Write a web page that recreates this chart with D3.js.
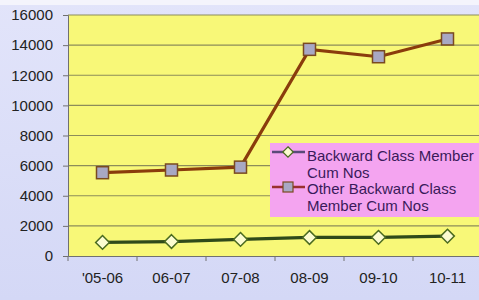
<!DOCTYPE html>
<html><head><meta charset="utf-8">
<script src="https://cdn.jsdelivr.net/npm/d3@7"></script>
<style>body{margin:0;background:#fff}svg{display:block}</style>
</head><body>
<script>
const categories = ["'05-06","06-07","07-08","08-09","09-10","10-11"];
const backward = [900, 960, 1100, 1230, 1240, 1320];
const otherBackward = [5530, 5710, 5900, 13720, 13230, 14410];
const yTicks = [0,2000,4000,6000,8000,10000,12000,14000,16000];
const seriesNames = [["Backward Class Member","Cum Nos"],["Other Backward Class","Member Cum Nos"]];

const W = 479, H = 300;
const FONT = "Arial, Liberation Sans, sans-serif";
const svg = d3.select("body").append("svg").attr("width", W).attr("height", H);
const defs = svg.append("defs");
const bg = defs.append("linearGradient").attr("id","bg").attr("x1",0).attr("y1",0).attr("x2",0).attr("y2",1);
bg.append("stop").attr("offset","0").attr("stop-color","#e2e4fa");
bg.append("stop").attr("offset","1").attr("stop-color","#d4d8f6");
svg.append("rect").attr("width",W).attr("height",H).attr("fill","url(#bg)");
svg.append("rect").attr("width",W).attr("height",5).attr("fill","#f4f4fc");

const m = {l:68, t:15, r:482, b:256};
const x = d3.scaleBand().domain(categories).range([m.l, m.r]);
const y = d3.scaleLinear().domain([0,16000]).range([m.b, m.t]);

svg.append("rect").attr("x",m.l).attr("y",m.t).attr("width",m.r-m.l).attr("height",m.b-m.t).attr("fill","#f8f878");

// gridlines
svg.append("g").selectAll("line").data(yTicks.filter(d=>d>0)).join("line")
  .attr("x1",m.l).attr("x2",m.r).attr("y1",d=>y(d)).attr("y2",d=>y(d))
  .attr("stroke","#8c8c5a").attr("stroke-width",1.2);

// y axis
const ya = svg.append("g").attr("transform",`translate(${m.l},0)`)
  .call(d3.axisLeft(y).tickValues(yTicks).tickFormat(d3.format("d")).tickSize(5).tickPadding(10));
ya.select(".domain").attr("stroke","#707070");
ya.selectAll(".tick line").attr("stroke","#707070");
ya.selectAll("text").attr("font-family",FONT).attr("font-size",15).attr("fill","#222");

// x axis
const xa = svg.append("g").attr("transform",`translate(0,${m.b})`)
  .call(d3.axisBottom(x).tickSize(0).tickPadding(16));
xa.select(".domain").attr("stroke","#707070");
xa.selectAll("text").attr("font-family",FONT).attr("font-size",15).attr("fill","#222");
svg.append("g").selectAll("line").data(categories).join("line")
  .attr("x1",d=>x(d)).attr("x2",d=>x(d)).attr("y1",m.b).attr("y2",m.b+5)
  .attr("stroke","#707070");

const cx = d => x(d) + x.bandwidth()/2;
const line = d3.line().x((d,i)=>cx(categories[i])).y(d=>y(d));

svg.append("path").datum(otherBackward).attr("d",line).attr("fill","none")
  .attr("stroke","#8a3c0c").attr("stroke-width",3.2);
svg.append("path").datum(backward).attr("d",line).attr("fill","none")
  .attr("stroke","#2f4a1a").attr("stroke-width",3.2);

svg.append("g").selectAll("rect").data(otherBackward).join("rect")
  .attr("x",(d,i)=>cx(categories[i])-6).attr("y",d=>y(d)-6).attr("width",12).attr("height",12)
  .attr("fill","#a8a8c4").attr("stroke","#7a4a20").attr("stroke-width",1.5);
const diamond = d3.symbol().type(d3.symbolDiamond2).size(120);
svg.append("g").selectAll("path").data(backward).join("path")
  .attr("transform",(d,i)=>`translate(${cx(categories[i])},${y(d)})`).attr("d",diamond)
  .attr("fill","#fcfcd0").attr("stroke","#4a6a20").attr("stroke-width",1.5);

// legend
const lg = svg.append("g");
lg.append("rect").attr("x",270).attr("y",143).attr("width",212).attr("height",74).attr("fill","#f4a4f0");
const ly = [152, 187];
const baselines = [[161, 177.5],[194, 211]];
ly.forEach((yy,i)=>{
  lg.append("line").attr("x1",272).attr("x2",305).attr("y1",yy).attr("y2",yy)
    .attr("stroke", i===0 ? "#5a4a7a" : "#9a3030").attr("stroke-width",2.5);
  if(i===0){
    lg.append("path").attr("transform",`translate(288,${yy})`).attr("d",d3.symbol().type(d3.symbolDiamond2).size(70))
      .attr("fill","#fcfcd0").attr("stroke","#4a6a20").attr("stroke-width",1.2);
  } else {
    lg.append("rect").attr("x",283).attr("y",yy-5).attr("width",10).attr("height",10)
      .attr("fill","#a8a8c4").attr("stroke","#7a4a20").attr("stroke-width",1.2);
  }
  seriesNames[i].forEach((t,j)=>{
    lg.append("text").attr("x",307).attr("y",baselines[i][j]).text(t)
      .attr("font-family",FONT).attr("font-size",15).attr("fill","#3a1a5a");
  });
});
</script>
</body></html>
